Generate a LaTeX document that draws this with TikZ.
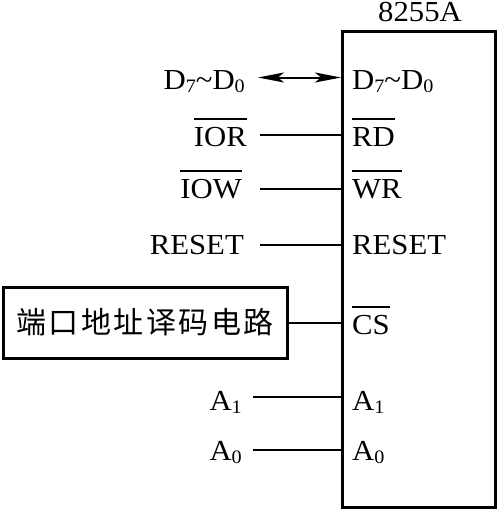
\documentclass[tikz,border=0pt]{standalone}
\usepackage{fontspec}
\setmainfont{Liberation Serif}[FakeStretch=1.06]
\newfontfamily\cjk{Noto Sans CJK SC}
\usetikzlibrary{arrows.meta}
\newcommand\sbs[1]{\raisebox{-3pt}{\fontsize{19}{19}\selectfont #1}}
\newcommand\ovl[1]{\leavevmode\vbox{\hrule height 1.6pt depth 0pt \kern 7pt \hbox{#1}}}
\newcommand\dtod{D\sbs{7}\textasciitilde D\sbs{0}}
\begin{document}
\begin{tikzpicture}[x=1pt,y=-1pt,
  font=\fontsize{29}{31}\selectfont,
  lbl/.style={inner sep=0pt},
  wire/.style={line width=2pt},
  frame/.style={draw, line width=3pt}]
\useasboundingbox (0,0) rectangle (498,509);
% chip
\node[frame, minimum width=153pt, minimum height=476pt, anchor=north west, inner sep=0pt] (chip) at (341,29.5) {};
\node[lbl, anchor=base] (title) at (420,21.5) {8255A};
% right labels
\node[lbl, anchor=base west] (rD) at (352,89) {\dtod};
\node[lbl, anchor=base west] (rRD) at (352,146) {\ovl{RD}};
\node[lbl, anchor=base west] (rWR) at (352,198) {\ovl{WR}};
\node[lbl, anchor=base west] (rRS) at (352,254) {RESET};
\node[lbl, anchor=base west] (rCS) at (352,334) {\ovl{CS}};
\node[lbl, anchor=base west] (rA1) at (352,410) {A\sbs{1}};
\node[lbl, anchor=base west] (rA0) at (352,460) {A\sbs{0}};
% left labels
\node[lbl, anchor=base east] (lD) at (245,89) {\dtod};
\node[lbl, anchor=base east] (lIOR) at (247,146) {\ovl{IOR}};
\node[lbl, anchor=base east] (lIOW) at (242,198) {\ovl{IOW}};
\node[lbl, anchor=base east] (lRS) at (244,254) {RESET};
\node[lbl, anchor=base east] (lA1) at (242,410) {A\sbs{1}};
\node[lbl, anchor=base east] (lA0) at (242,460) {A\sbs{0}};
% decoder box
\node[frame, minimum width=284pt, minimum height=71pt, inner sep=0pt] (dec) at (145,322.5)
  {\cjk\fontsize{30}{30}\selectfont 端\hspace{2.5pt}口\hspace{2.5pt}地\hspace{2.5pt}址\hspace{2.5pt}译\hspace{2.5pt}码\hspace{2.5pt}电\hspace{2.5pt}路};
% wires
\coordinate (sD) at (258,77.5);
\coordinate (sIOR) at (260,135);
\coordinate (sIOW) at (260,189);
\coordinate (sRS) at (260,245);
\coordinate (sA1) at (253,397);
\coordinate (sA0) at (253,450);
\draw[wire, {Stealth[length=26pt,width=10pt,inset=6pt]}-{Stealth[length=26pt,width=10pt,inset=6pt]}] (sD) -- (sD -| chip.west);
\draw[wire] (sIOR) -- (sIOR -| chip.west);
\draw[wire] (sIOW) -- (sIOW -| chip.west);
\draw[wire] (sRS) -- (sRS -| chip.west);
\draw[wire] (dec.east) -- (dec.east -| chip.west);
\draw[wire] (sA1) -- (sA1 -| chip.west);
\draw[wire] (sA0) -- (sA0 -| chip.west);
\end{tikzpicture}
\end{document}
